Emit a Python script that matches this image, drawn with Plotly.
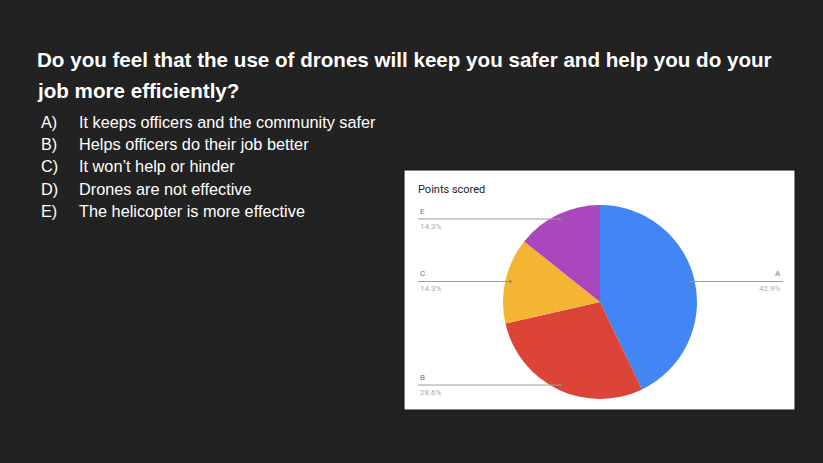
import math
import plotly.graph_objects as go

W, H = 823, 463

# data
labels = ["A", "B", "C", "D", "E"]
values = [3, 2, 1, 0, 1]
colors = ["#4285f4", "#db4437", "#f4b434", "#0f9d58", "#ab47bc"]

question = ["Do you feel that the use of drones will keep you safer and help you do your",
            "job more efficiently?"]
option_keys = ["A)", "B)", "C)", "D)", "E)"]
option_texts = ["It keeps officers and the community safer",
                "Helps officers do their job better",
                "It won\u2019t help or hinder",
                "Drones are not effective",
                "The helicopter is more effective"]
chart_title = "Points scored"


def px(x):
    return x / W


def py(y):
    return 1 - y / H


# chart box and pie geometry (pixels)
box = (404, 170, 795, 410)
cx, cy, r = 600, 302, 97

fig = go.Figure()
fig.add_trace(go.Pie(
    labels=labels, values=values, sort=False, direction="clockwise",
    marker=dict(colors=colors, line=dict(width=0)),
    textinfo="none", hoverinfo="label+percent", showlegend=False,
    domain=dict(x=[px(cx - r), px(cx + r)], y=[py(cy + r), py(cy - r)]),
))

shapes = [dict(type="rect", xref="paper", yref="paper", layer="below",
               x0=px(box[0]), x1=px(box[2]), y0=py(box[3]), y1=py(box[1]),
               fillcolor="white", line=dict(color="#111111", width=1))]
annotations = []

font = "Liberation Sans, Arial, Helvetica, sans-serif"
for i, line in enumerate(question):
    annotations.append(dict(x=px(35), y=py(60 + 30 * i), text="<b>" + line + "</b>",
                            xanchor="left", yanchor="middle", showarrow=False,
                            font=dict(size=20.6, color="white", family=font)))
for i, (k, t) in enumerate(zip(option_keys, option_texts)):
    yy = 122 + 22.2 * i
    annotations.append(dict(x=px(39), y=py(yy), text=k, xanchor="left", yanchor="middle",
                            showarrow=False, font=dict(size=16.3, color="white", family=font)))
    annotations.append(dict(x=px(77), y=py(yy), text=t, xanchor="left", yanchor="middle",
                            showarrow=False, font=dict(size=16.3, color="white", family=font)))

annotations.append(dict(x=px(416), y=py(189), text=chart_title, xanchor="left", yanchor="middle",
                        showarrow=False, font=dict(size=11, color="#222222", family="Roboto, Arial")))

# leader lines and labels computed from the slice angles
total = sum(values)
cum = 0
for lab, v in zip(labels, values):
    if v == 0:
        continue
    a = math.radians((cum + v / 2) / total * 360)
    cum += v
    dx = cx + 0.95 * r * math.sin(a)
    dy = cy - 0.95 * r * math.cos(a)
    pct = "%.1f%%" % (100 * v / total)
    if math.sin(a) >= 0:
        x0, x1, tx, anchor = dx, box[2] - 12, box[2] - 12, "right"
    else:
        x0, x1, tx, anchor = box[0] + 14, dx, box[0] + 14, "left"
    shapes.append(dict(type="line", xref="paper", yref="paper", x0=px(x0), x1=px(x1),
                       y0=py(dy), y1=py(dy), line=dict(color="#9e9e9e", width=1)))
    shapes.append(dict(type="circle", xref="paper", yref="paper",
                       x0=px(dx - 1.5), x1=px(dx + 1.5), y0=py(dy + 1.5), y1=py(dy - 1.5),
                       fillcolor="#888888", line=dict(width=0)))
    annotations.append(dict(x=px(tx), y=py(dy - 1), text=lab, xanchor=anchor, yanchor="bottom",
                            showarrow=False, font=dict(size=8, color="#757575", family="Roboto, Arial")))
    annotations.append(dict(x=px(tx), y=py(dy + 1), text=pct, xanchor=anchor, yanchor="top",
                            showarrow=False, font=dict(size=8, color="#aaaaaa", family="Roboto, Arial")))

fig.update_layout(
    width=W, height=H, margin=dict(l=0, r=0, t=0, b=0),
    paper_bgcolor="#222222", plot_bgcolor="#222222",
    shapes=shapes, annotations=annotations,
)
fig.write_html("out.html", config={"displayModeBar": False},
               post_script="document.body.style.margin='0';document.body.style.background='#222222';")
